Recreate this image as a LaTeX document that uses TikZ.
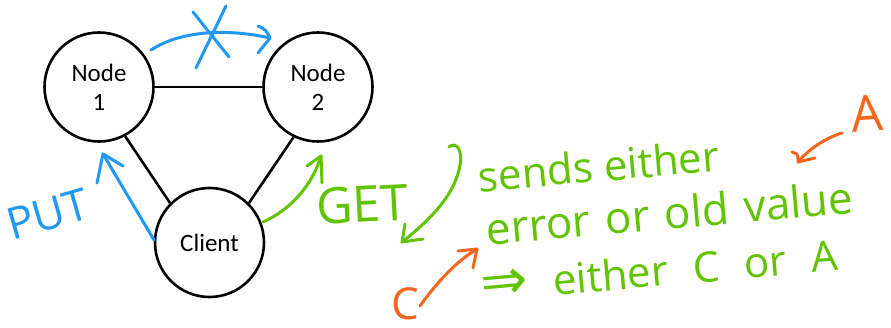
\documentclass[tikz,border=0pt]{standalone}
\usepackage{fontspec}
\setmainfont{Carlito}
\newfontfamily\handfont{Open Sans}
\newfontfamily\symfont{DejaVu Sans}
\definecolor{inkblue}{RGB}{33,152,243}
\definecolor{inkgreen}{RGB}{98,196,0}
\definecolor{inkorange}{RGB}{243,102,30}
\tikzset{
  server/.style={circle, draw, line width=2.6pt, minimum size=109pt, inner sep=0pt,
    align=center, font=\fontsize{25}{29}\selectfont},
  link/.style={line width=2.6pt},
  ink/.style={line width=3pt, line cap=round, line join=round},
  handtext/.style={inner sep=0pt, font=\handfont\fontsize{42}{50}\selectfont},
}
\begin{document}
\begin{tikzpicture}[x=1pt,y=-1pt]
\useasboundingbox (0,0) rectangle (891,328);
\fill[white] (0,0) rectangle (891,328);

% the three machines
\node[server] (n1) at (99,87) {Node\\1};
\node[server] (n2) at (318,87) {Node\\2};
\node[server] (cl) at (209.5,242.5) {Client};
\draw[link] (n1.east) -- (n2.west);
\draw[link] (n1.-62) -- (cl.135);
\draw[link] (n2.-116) -- (cl.45);

% PUT from the client to node 1
\coordinate (putS) at (154,240);
\coordinate (putT) at (103,154);
\draw[ink, inkblue] (putS) -- (putT);
\draw[ink, inkblue] ([shift={(-6,29)}]putT) -- (putT) -- ([shift={(20,12)}]putT);
\node[handtext, inkblue, font=\handfont\fontsize{44}{50}\selectfont, rotate=16] (put) at (48,214) {PUT};

% replication from node 1 to node 2, crossed out
\coordinate (repS) at (151,50);
\coordinate (repT) at (270,38);
\draw[ink, inkblue] (repS) .. controls (185,28) and (235,30) .. (repT);
\draw[ink, inkblue] ([shift={(-12,-12)}]repT) .. controls ([shift={(-4,-8)}]repT) .. (repT) -- ([shift={(-12,15)}]repT);
\coordinate (xa) at (193,12);
\coordinate (xb) at (229,57);
\coordinate (xc) at (226,6);
\coordinate (xd) at (196,68);
\draw[ink, inkblue] (xa) -- (xb);
\draw[ink, inkblue] (xc) -- (xd);

% GET from the client to node 2
\coordinate (getS) at (263,222);
\coordinate (getT) at (321,156);
\draw[ink, inkgreen] (getS) .. controls (290,210) and (312,186) .. (getT);
\draw[ink, inkgreen] ([shift={(-14,10)}]getT) -- (getT) -- ([shift={(1,27)}]getT);
\node[handtext, inkgreen, font=\handfont\fontsize{50}{56}\selectfont, rotate=3, anchor=base] (get) at (363,222) {GET};

% reply back to the client
\coordinate (repl) at (449,147);
\coordinate (replT) at (402,242);
\draw[ink, inkgreen] (repl) .. controls (456,141) and (463,150) .. (460,165)
  .. controls (455,195) and (430,220) .. (replT);
\draw[ink, inkgreen] ([shift={(3,-18)}]replT) -- (replT) -- ([shift={(21,-3)}]replT);

\node[handtext, inkgreen, rotate=5, anchor=base] (l1) at (600,181.5) {sends either};
\node[handtext, inkgreen, font=\handfont\fontsize{44}{50}\selectfont, rotate=5, anchor=base] (l2) at (671,229)
  {\spaceskip=15pt\relax error or old value};
\node[handtext, inkgreen, rotate=5, anchor=base] (l3) at (661,286)
  {\spaceskip=25pt\relax{\symfont\fontsize{56}{60}\selectfont ⇒} either C or A};

% the two possible values
\node[handtext, inkorange, font=\handfont\fontsize{44}{48}\selectfont] (valC) at (405,304) {C};
\node[handtext, inkorange, font=\handfont\fontsize{50}{56}\selectfont, rotate=4] (valA) at (867,114) {A};
\coordinate (cS) at (420,306);
\coordinate (cT) at (477,249);
\draw[ink, inkorange] (cS) .. controls (435,285) and (455,262) .. (cT);
\draw[ink, inkorange] ([shift={(-19,2)}]cT) -- (cT) -- ([shift={(-4,19)}]cT);
\coordinate (aS) at (842,133);
\coordinate (aT) at (798,162);
\draw[ink, inkorange] (aS) .. controls (825,138) and (808,150) .. (aT);
\draw[ink, inkorange] ([shift={(-6,-10)}]aT) .. controls ([shift={(0,-8)}]aT) .. (aT) -- ([shift={(17,-4)}]aT);
\end{tikzpicture}
\end{document}
